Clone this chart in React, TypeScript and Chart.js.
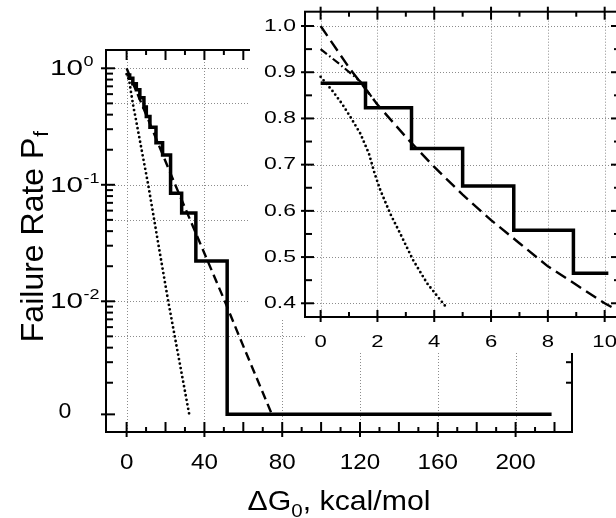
import React, { useEffect, useRef } from 'react';
import { Chart, registerables } from 'chart.js';

Chart.register(...registerables);

// ---------- data ----------
// Main panel: failure rate Pf vs ΔG0 (kcal/mol); 0 sits on a broken log axis
const STEP_X = [0, 1.58, 3.2, 5.0, 6.8, 8.9, 10.13, 12.0, 15.1, 18.5, 22.6, 28.3, 35.6, 51.7, 218.5];
const STEP_PF = [0.876, 0.823, 0.735, 0.654, 0.558, 0.465, 0.385, 0.312, 0.23, 0.18, 0.0845, 0.0573, 0.0222, 0, 0];
const DASH_X = [0, 1, 2, 3, 4, 5, 6, 7, 8, 9, 10, 10.6, 25, 50.5, 57.9, 74.7];
const DASH_PF = [1.0, 0.91, 0.83, 0.76, 0.695, 0.635, 0.58, 0.53, 0.48, 0.44, 0.4, 0.38, 0.1, 0.01, 0.005, 0];
const DOT_X = [0, 0.4, 0.75, 1.05, 1.4, 1.7, 1.9, 2.1, 2.45, 2.8, 3.25, 3.75, 4.4, 11.1, 16.6, 21.4, 32.2];
const DOT_PF = [0.89, 0.861, 0.832, 0.803, 0.767, 0.724, 0.681, 0.645, 0.594, 0.551, 0.494, 0.443, 0.393, 0.1, 0.029, 0.01, 0];
// Inset only
const INSET_STEP_X = [0, 1.58, 3.2, 5.0, 6.8, 8.9, 10.13];
const INSET_STEP_PF = [0.876, 0.823, 0.735, 0.654, 0.558, 0.465, 0.465];
const DASHDOT_X = [0, 0.7, 1.4, 2.0];
const DASHDOT_PF = [0.95, 0.916, 0.88, 0.83];
const INSET_DASH_POINTS = 12;
const INSET_DOT_POINTS = 13;

// ---------- ticks ----------
const X_LABELS = [0, 40, 80, 120, 160, 200];
const X_MAJOR = [0, 20, 40, 60, 80, 100, 120, 140, 160, 180, 200, 220];
const X_MINOR = [10, 30, 50, 70, 90, 110, 130, 150, 170, 190, 210];
const Y_DECADES = [1, 0.1, 0.01];
const Y_EXPONENTS = ['0', '-1', '-2'];
const Y_MINOR = [0.2, 0.3, 0.4, 0.5, 0.6, 0.7, 0.8, 0.9, 0.02, 0.03, 0.04, 0.05, 0.06, 0.07, 0.08, 0.09,
  0.002, 0.003, 0.004, 0.005, 0.006, 0.007, 0.008, 0.009];
const Y_GRID = [1, 0.5, 0.1, 0.05, 0.01, 0.005];
const ZERO_LABEL = '0';
const ZERO_PF = 1.07e-3; // position of "0" on the broken log axis

const INSET_X_LABELS = [0, 2, 4, 6, 8, 10];
const INSET_X_MINOR = [1, 3, 5, 7, 9];
const INSET_Y_LABELS = [1.0, 0.9, 0.8, 0.7, 0.6, 0.5, 0.4];
const INSET_Y_MINOR = [0.95, 0.85, 0.75, 0.65, 0.55, 0.45];

const X_TITLE = ['ΔG', '0', ', kcal/mol'];
const Y_TITLE = ['Failure Rate P', 'f'];

const FONT = '"Liberation Sans", Arial, Helvetica, sans-serif';

const toPf = (v: number) => (v === 0 ? ZERO_PF : v);
const pts = (xs: number[], ys: number[], n?: number) =>
  xs.slice(0, n ?? xs.length).map((x, i) => ({ x, y: toPf(ys[i]) }));

function drawText(ctx: CanvasRenderingContext2D, text: string, x: number, y: number, size: number,
  align: 'left' | 'center' | 'right', scaleX: number, baseline: CanvasTextBaseline = 'middle') {
  ctx.save();
  ctx.font = `${size}px ${FONT}`;
  ctx.textBaseline = baseline;
  ctx.textAlign = 'left';
  const w = ctx.measureText(text).width * scaleX;
  const left = align === 'center' ? x - w / 2 : align === 'right' ? x - w : x;
  ctx.translate(left, y);
  ctx.scale(scaleX, 1);
  ctx.fillStyle = '#000';
  ctx.fillText(text, 0, 0);
  ctx.restore();
  return w;
}

function measure(ctx: CanvasRenderingContext2D, text: string, size: number, scaleX: number) {
  ctx.save();
  ctx.font = `${size}px ${FONT}`;
  const w = ctx.measureText(text).width * scaleX;
  ctx.restore();
  return w;
}

function seg(ctx: CanvasRenderingContext2D, x1: number, y1: number, x2: number, y2: number) {
  ctx.beginPath();
  ctx.moveTo(x1, y1);
  ctx.lineTo(x2, y2);
  ctx.stroke();
}

const mainDecor = {
  id: 'mainDecor',
  beforeDatasetsDraw(chart: any) {
    const { ctx, chartArea: a, scales } = chart;
    const x = scales.x, y = scales.y;
    ctx.save();
    ctx.strokeStyle = '#8c8c8c';
    ctx.lineWidth = 1;
    ctx.setLineDash([1, 2]);
    X_LABELS.forEach((v) => {
      const px = Math.round(x.getPixelForValue(v)) + 0.5;
      seg(ctx, px, a.top, px, a.bottom);
    });
    Y_GRID.forEach((v) => {
      const py = Math.round(y.getPixelForValue(v)) + 0.5;
      seg(ctx, a.left, py, a.right, py);
    });
    ctx.restore();
  },
  afterDatasetsDraw(chart: any) {
    const { ctx, chartArea: a, scales } = chart;
    const x = scales.x, y = scales.y;
    ctx.save();
    ctx.strokeStyle = '#000';
    ctx.lineWidth = 2;
    ctx.setLineDash([]);
    ctx.strokeRect(a.left, a.top, a.right - a.left, a.bottom - a.top);
    // x ticks
    X_MAJOR.forEach((v) => {
      const px = x.getPixelForValue(v);
      const labeled = X_LABELS.includes(v);
      seg(ctx, px, a.bottom + (labeled ? 5 : 0), px, a.bottom - 10);
      seg(ctx, px, a.top, px, a.top + 10);
    });
    X_MINOR.forEach((v) => {
      const px = x.getPixelForValue(v);
      seg(ctx, px, a.bottom, px, a.bottom - 5);
      seg(ctx, px, a.top, px, a.top + 5);
    });
    // y ticks
    [...Y_DECADES, ZERO_PF].forEach((v) => {
      const py = y.getPixelForValue(v);
      seg(ctx, a.left - 5, py, a.left + 9, py);
      if (v !== ZERO_PF) seg(ctx, a.right, py, a.right - 9, py);
    });
    Y_MINOR.forEach((v) => {
      const py = y.getPixelForValue(v);
      seg(ctx, a.left, py, a.left + 7, py);
      seg(ctx, a.right, py, a.right - 6, py);
    });
    // x labels
    X_LABELS.forEach((v) => {
      drawText(ctx, String(v), x.getPixelForValue(v), a.bottom + 31, 22, 'center', 1.1);
    });
    // y labels
    Y_DECADES.forEach((v, i) => {
      const py = y.getPixelForValue(v);
      const w = drawText(ctx, '10', a.left - 56, py + 1, 22, 'left', 1.35);
      drawText(ctx, Y_EXPONENTS[i], a.left - 56 + w + 0.5, py - 6, 15, 'left', 1.2);
    });
    drawText(ctx, ZERO_LABEL, a.left - 41, y.getPixelForValue(ZERO_PF) - 2, 22, 'center', 1.05);
    // x title
    const xs1 = 28, xs2 = 19, xsc = 1.08;
    const w1 = measure(ctx, X_TITLE[0], xs1, xsc);
    const w2 = measure(ctx, X_TITLE[1], xs2, xsc);
    const w3 = measure(ctx, X_TITLE[2], xs1, xsc);
    let sx = (a.left + a.right) / 2 - (w1 + w2 + w3) / 2;
    const by = a.bottom + 78;
    sx += drawText(ctx, X_TITLE[0], sx, by, xs1, 'left', xsc, 'alphabetic');
    sx += drawText(ctx, X_TITLE[1], sx, by + 7, xs2, 'left', xsc, 'alphabetic');
    drawText(ctx, X_TITLE[2], sx, by, xs1, 'left', xsc, 'alphabetic');
    // y title (rotated)
    ctx.save();
    ctx.translate(43, a.top + 187);
    ctx.rotate(-Math.PI / 2);
    const t1 = measure(ctx, Y_TITLE[0], 32, 1);
    const t2 = measure(ctx, Y_TITLE[1], 21, 1);
    let tx = -(t1 + t2) / 2;
    tx += drawText(ctx, Y_TITLE[0], tx, 0, 32, 'left', 1, 'alphabetic');
    drawText(ctx, Y_TITLE[1], tx + 1, 5, 21, 'left', 1, 'alphabetic');
    ctx.restore();
    ctx.restore();
  },
};

const insetDecor = {
  id: 'insetDecor',
  beforeDraw(chart: any) {
    const { ctx, width } = chart;
    ctx.save();
    ctx.fillStyle = '#fff';
    ctx.fillRect(0, 0, width, 318);
    ctx.fillRect(57, 318, width - 57, 35);
    ctx.restore();
  },
  beforeDatasetsDraw(chart: any) {
    const { ctx, chartArea: a, scales } = chart;
    const x = scales.x, y = scales.y;
    ctx.save();
    ctx.strokeStyle = '#8c8c8c';
    ctx.lineWidth = 1;
    ctx.setLineDash([1, 2]);
    INSET_X_LABELS.forEach((v) => {
      const px = Math.round(x.getPixelForValue(v)) + 0.5;
      seg(ctx, px, a.top, px, a.bottom);
    });
    INSET_Y_LABELS.forEach((v) => {
      const py = Math.round(y.getPixelForValue(v)) + 0.5;
      seg(ctx, a.left, py, a.right, py);
    });
    ctx.restore();
  },
  afterDatasetsDraw(chart: any) {
    const { ctx, chartArea: a, scales } = chart;
    const x = scales.x, y = scales.y;
    ctx.save();
    ctx.strokeStyle = '#000';
    ctx.lineWidth = 2;
    ctx.setLineDash([]);
    ctx.strokeRect(a.left, a.top, a.right - a.left, a.bottom - a.top);
    INSET_X_LABELS.forEach((v) => {
      const px = x.getPixelForValue(v);
      seg(ctx, px, a.bottom + 5, px, a.bottom - 7);
      seg(ctx, px, a.top - 5, px, a.top + 8);
      drawText(ctx, String(v), px, 342.5, 17, 'center', 1.3);
    });
    INSET_X_MINOR.forEach((v) => {
      const px = x.getPixelForValue(v);
      seg(ctx, px, a.bottom, px, a.bottom - 5);
      seg(ctx, px, a.top, px, a.top + 5);
    });
    INSET_Y_LABELS.forEach((v) => {
      const py = y.getPixelForValue(v);
      seg(ctx, a.left - 4, py, a.left + 9, py);
      seg(ctx, a.right, py, a.right - 9, py);
      drawText(ctx, v.toFixed(1), a.left - 9, py, 17, 'right', 1.35);
    });
    INSET_Y_MINOR.forEach((v) => {
      const py = y.getPixelForValue(v);
      seg(ctx, a.left, py, a.left + 7, py);
      seg(ctx, a.right, py, a.right - 6, py);
    });
    ctx.restore();
  },
};

const base = { pointRadius: 0, borderColor: '#000', fill: false, tension: 0 };

export default function App() {
  const mainRef = useRef<HTMLCanvasElement>(null);
  const insetRef = useRef<HTMLCanvasElement>(null);

  useEffect(() => {
    const main = new Chart(mainRef.current as HTMLCanvasElement, {
      type: 'line',
      data: {
        datasets: [
          { ...base, data: pts(STEP_X, STEP_PF), borderWidth: 3.5, stepped: true, borderJoinStyle: 'miter' },
          { ...base, data: pts(DASH_X, DASH_PF), borderWidth: 2.4, borderDash: [9, 5] },
          { ...base, data: pts(DOT_X, DOT_PF), borderWidth: 2.8, borderDash: [0, 4.6], borderCapStyle: 'round' },
        ] as any,
      },
      options: {
        responsive: false,
        animation: false,
        devicePixelRatio: 1,
        layout: { padding: { left: 106, right: 44, top: 50, bottom: 86 } },
        scales: {
          x: { type: 'linear', min: -10.6, max: 229, display: false, bounds: 'data' },
          y: { type: 'logarithmic', min: Math.pow(10, -3.122), max: Math.pow(10, 0.157), display: false, bounds: 'data' },
        },
        plugins: { legend: { display: false }, tooltip: { enabled: false } },
        events: [],
      } as any,
      plugins: [mainDecor],
    });

    const inset = new Chart(insetRef.current as HTMLCanvasElement, {
      type: 'line',
      data: {
        datasets: [
          { ...base, data: pts(INSET_STEP_X, INSET_STEP_PF), borderWidth: 3.5, stepped: true, borderJoinStyle: 'miter' },
          { ...base, data: pts(DASH_X, DASH_PF, INSET_DASH_POINTS), borderWidth: 2.4, borderDash: [12, 6] },
          { ...base, data: pts(DASHDOT_X, DASHDOT_PF), borderWidth: 2.2, borderDash: [8, 3, 1.5, 3] },
          { ...base, data: pts(DOT_X, DOT_PF, INSET_DOT_POINTS), borderWidth: 2.8, borderDash: [0, 4.6], borderCapStyle: 'round' },
        ] as any,
      },
      options: {
        responsive: false,
        animation: false,
        devicePixelRatio: 1,
        layout: { padding: { left: 55, right: 20, top: 11.7, bottom: 36 } },
        scales: {
          x: { type: 'linear', min: -0.55, max: 10.54, display: false, bounds: 'data' },
          y: { type: 'linear', min: 0.3703, max: 1.031, display: false, bounds: 'data' },
        },
        plugins: { legend: { display: false }, tooltip: { enabled: false } },
        events: [],
      } as any,
      plugins: [insetDecor],
    });

    return () => {
      main.destroy();
      inset.destroy();
    };
  }, []);

  return (
    <div style={{ position: 'fixed', left: 0, top: 0, width: 616, height: 518, overflow: 'hidden', background: '#fff' }}>
      <canvas ref={mainRef} width={616} height={518}
        style={{ position: 'absolute', left: 0, top: 0, width: 616, height: 518 }} />
      <canvas ref={insetRef} width={390} height={353}
        style={{ position: 'absolute', left: 250, top: 0, width: 390, height: 353 }} />
    </div>
  );
}
